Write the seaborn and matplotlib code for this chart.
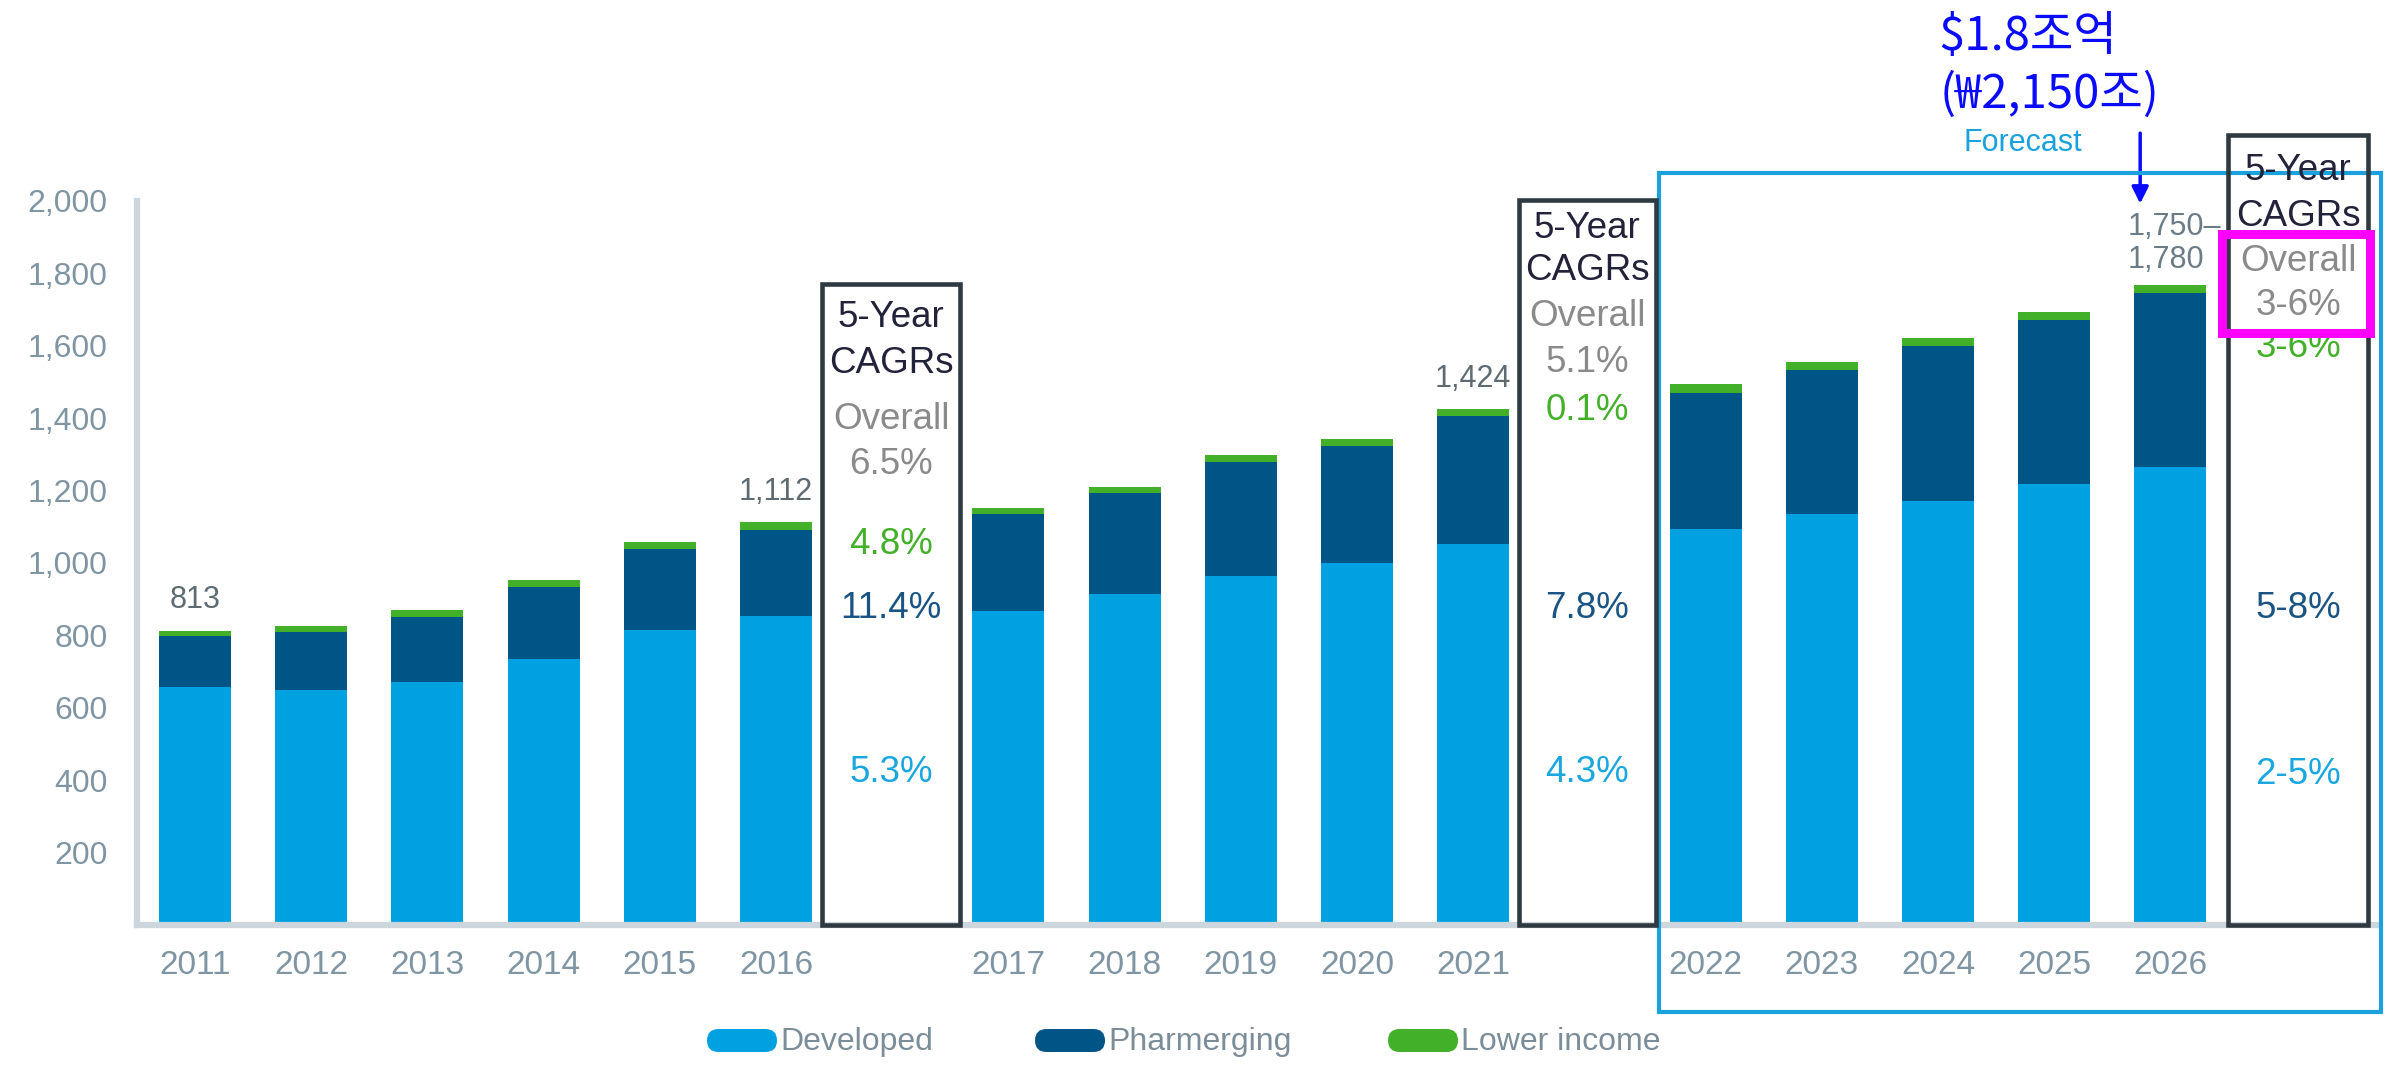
import matplotlib
matplotlib.use("Agg")
import matplotlib.pyplot as plt
import seaborn as sns
import pandas as pd
from matplotlib.patches import Rectangle, FancyBboxPatch
from matplotlib.transforms import IdentityTransform

# ---------------- data ----------------
years = ["2011", "2012", "2013", "2014", "2015", "2016",
         "2017", "2018", "2019", "2020", "2021",
         "2022", "2023", "2024", "2025", "2026"]
developed = [658, 648, 671, 736, 816, 853, 868, 913, 963, 999, 1053,
             1095, 1134, 1172, 1217, 1264]
pharmerging = [140, 161, 180, 197, 223, 239, 267, 281, 317, 324, 352,
               375, 398, 426, 454, 481]
lower_income = [15, 18, 19, 20, 19, 20, 17, 17, 18, 20, 19,
                23, 23, 23, 23, 22]
period_sizes = [6, 5, 5]
total_labels = {"2011": "813", "2016": "1,112", "2021": "1,424", "2026": "1,750–\n1,780"}
cagr_overall = ["6.5%", "5.1%", "3-6%"]
cagr_lower = ["4.8%", "0.1%", "3-6%"]
cagr_pharm = ["11.4%", "7.8%", "5-8%"]
cagr_dev = ["5.3%", "4.3%", "2-5%"]
series_names = ["Developed", "Pharmerging", "Lower income"]

# ---------------- styling ----------------
sns.set_style("white")
plt.rcParams["font.family"] = ["Liberation Sans", "Noto Sans CJK KR", "DejaVu Sans"]

C_DEV = "#00a1e0"
C_PH = "#005587"
C_LOW = "#43b02a"
C_TICK = "#7f95a3"
C_GRAY = "#8a8a8a"
C_HEAD = "#22223a"
C_PCT_PH = "#1a5485"
C_PCT_DEV = "#1aa7e0"
C_BOX = "#2f3a40"
C_FC = "#1ba1dc"

df = pd.DataFrame({"year": years, "dev": developed, "ph": pharmerging, "low": lower_income})
df["dev_ph"] = df["dev"] + df["ph"]
df["total"] = df["dev_ph"] + df["low"]

# category order with an empty slot after each period (for the CAGR boxes)
order = []
gap_names = []
i = 0
for k, n in enumerate(period_sizes):
    order += years[i:i + n]
    g = f"_gap{k}"
    order.append(g)
    gap_names.append(g)
    i += n

fig = plt.figure(figsize=(23.94, 10.66), dpi=100)
ax = fig.add_axes([0.0572, 0.1323, 0.9353, 0.6792])

common = dict(data=df, x="year", order=order, width=0.62, saturation=1,
              errorbar=None, ax=ax, linewidth=0)
sns.barplot(y="total", color=C_LOW, **common)
sns.barplot(y="dev_ph", color=C_PH, **common)
sns.barplot(y="dev", color=C_DEV, **common)

ax.set_xlim(-0.5, 18.77)
ax.set_ylim(0, 2000)
ax.set_xlabel("")
ax.set_ylabel("")
ax.set_xticks(range(len(order)))
ax.set_xticklabels([o if o in years else "" for o in order])
yt = list(range(200, 2001, 200))
ax.set_yticks(yt)
ax.set_yticklabels([f"{v:,}" for v in yt])
ax.tick_params(axis="y", length=0, pad=21, labelsize=23, labelcolor=C_TICK)
ax.tick_params(axis="x", length=0, pad=18, labelsize=24, labelcolor=C_TICK)
for s in ["top", "right"]:
    ax.spines[s].set_visible(False)
for s in ["left", "bottom"]:
    ax.spines[s].set_color("#cdd6dc")
    ax.spines[s].set_linewidth(4.5)

# total labels
pos = {o: j for j, o in enumerate(order)}
tot = dict(zip(df["year"], df["total"]))
for y, lbl in total_labels.items():
    if "\n" in lbl:
        ax.text(pos[y] - 0.37, tot[y] + 28, lbl, ha="left", va="bottom",
                fontsize=22, color="#6b7b87", linespacing=1.15)
    else:
        ax.text(pos[y], tot[y] + 85, lbl, ha="center", va="center",
                fontsize=22, color="#5f6b73")

# CAGR boxes
box_tops = [1771, 2003, 2182]
box_cx = [5.99, 11.98, 18.10]
box_w = [1.18, 1.18, 1.20]
text_y = [
    [1677, 1550, 1395, 1271, 1052, 873, 420],
    [1923, 1807, 1682, 1555, 1420, 873, 420],
    [2083, 1958, 1832, 1710, 1594, 875, 417],
]
for k, g in enumerate(gap_names):
    cx = box_cx[k]
    ax.add_patch(Rectangle((cx - box_w[k] / 2, 0), box_w[k], box_tops[k], fill=False,
                           lw=3.3, ec=C_BOX, clip_on=False, zorder=5))
    ty = text_y[k]
    lines = [("5-Year", C_HEAD), ("CAGRs", C_HEAD), ("Overall", C_GRAY),
             (cagr_overall[k], C_GRAY), (cagr_lower[k], C_LOW),
             (cagr_pharm[k], C_PCT_PH), (cagr_dev[k], C_PCT_DEV)]
    for (t, c), yy in zip(lines, ty):
        ax.text(cx, yy, t, ha="center", va="center", fontsize=26.5, color=c, zorder=6)

# forecast frame
ax.add_patch(Rectangle((12.6, -240), 18.81 - 12.6, 2077 + 240, fill=False,
                       lw=3.0, ec=C_FC, clip_on=False, zorder=4))
ax.text(15.73, 2160, "Forecast", ha="center", va="center", fontsize=22, color=C_FC)

# magenta highlight
ax.add_patch(Rectangle((17.44, 1635), 1.28, 274, fill=False, lw=6.5,
                       ec="#ff00ff", clip_on=False, zorder=7))

# Korean annotation
kfam = ["Noto Sans CJK KR", "DejaVu Sans"]
ax.text(15.77, 2453, "$1.8조억", ha="center", va="center", fontsize=34,
        color="#0a0aff", family=kfam)
ax.text(15.96, 2293, "(₩2,150조)", ha="center", va="center", fontsize=34,
        color="#0a0aff", family=kfam)
ax.annotate("", xy=(16.74, 1985), xytext=(16.74, 2195),
            arrowprops=dict(arrowstyle="-|>", color="#0a0aff", lw=2.5, mutation_scale=25),
            annotation_clip=False)

# legend (pill-shaped swatches)
leg_x = [707, 1035, 1388]
for x0, name, col in zip(leg_x, series_names, [C_DEV, C_PH, C_LOW]):
    p = FancyBboxPatch((x0, 14), 70, 23,
                       boxstyle="round,pad=0,rounding_size=11.5",
                       transform=IdentityTransform(), fc=col, ec="none")
    fig.add_artist(p)
    fig.text((x0 + 73) / 2394, 24 / 1066, name, ha="left", va="center",
             fontsize=23, color="#7a8d99")

fig.savefig("out.png", dpi=100)
